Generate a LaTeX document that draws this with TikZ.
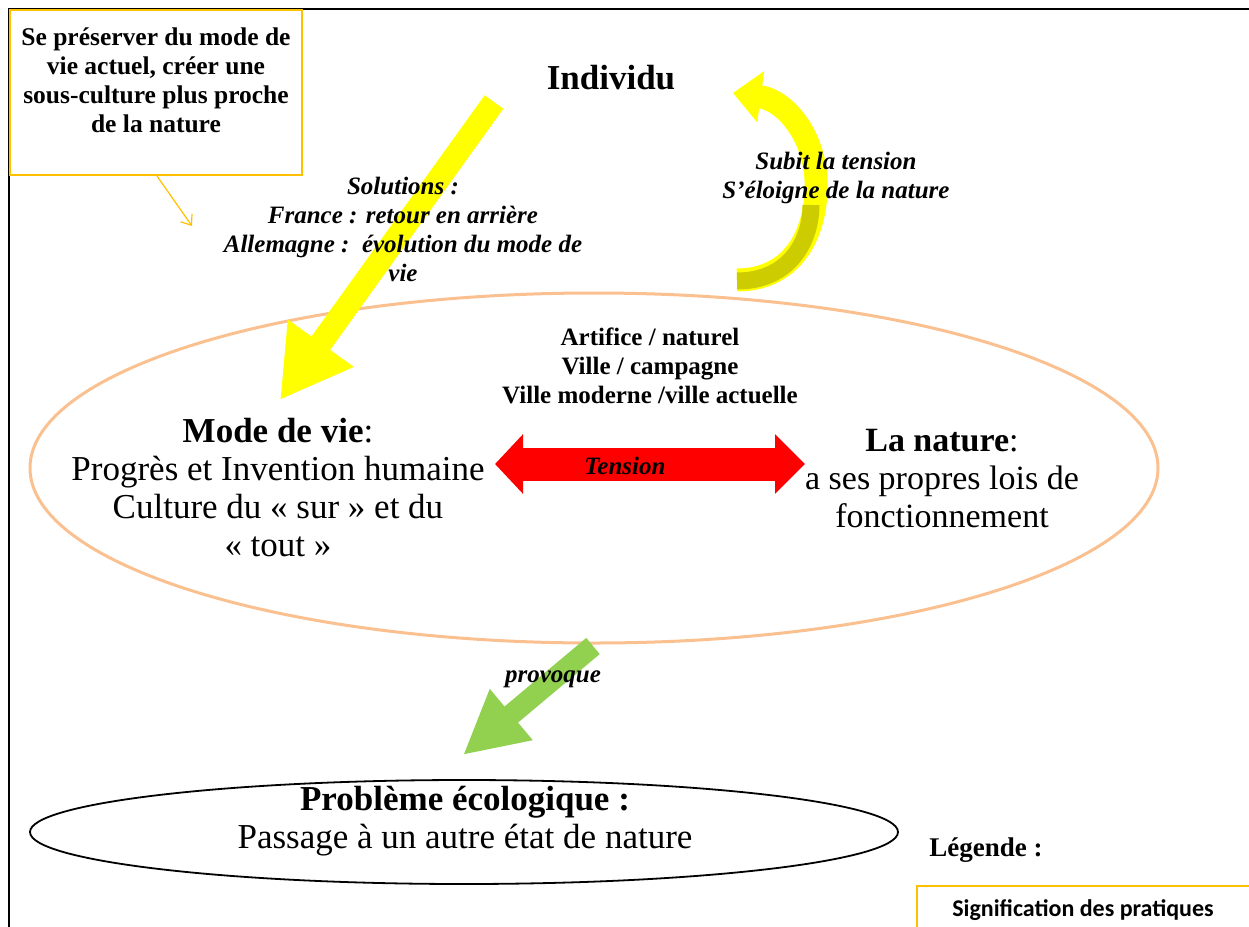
\documentclass[tikz,border=0pt]{standalone}
\usepackage{fontspec}
\setmainfont{Liberation Serif}
\newfontfamily\calib{Carlito}
\usetikzlibrary{arrows.meta,shapes.geometric}
\definecolor{peach}{HTML}{FAC090}
\definecolor{gold}{HTML}{FFC000}
\definecolor{grn}{HTML}{92D050}
\definecolor{olivey}{HTML}{CCCC00}
\definecolor{yel}{HTML}{FFFF00}
\definecolor{redd}{HTML}{FF0000}
\tikzset{
  txt/.style={align=center, inner sep=0pt, text=black},
  bigr/.style={txt, font=\fontsize{35}{38}\selectfont},
  midb/.style={txt, font=\fontsize{25}{29}\selectfont\bfseries},
  midbi/.style={txt, font=\fontsize{25}{29}\selectfont\bfseries\itshape},
  boxb/.style={txt, font=\fontsize{25.5}{29}\selectfont\bfseries},
}
\begin{document}
\begin{tikzpicture}[x=1pt,y=-1pt]
\useasboundingbox (0,0) rectangle (1249,926);
% frame
\draw[line width=2.2pt] (9,930) -- (9,9) -- (1249,9);
% ellipses
\node[ellipse, draw=peach, line width=3pt, minimum width=1128pt, minimum height=350pt, inner sep=0pt] (ell) at (594,468) {};
\node[ellipse, draw=black, line width=1.8pt, minimum width=868pt, minimum height=104pt, inner sep=0pt] (eco) at (464,832) {};
% top-left box
\node[draw=gold, line width=1.5pt, minimum width=292pt, minimum height=165pt, inner sep=0pt] (box) at (156,92.5) {};
\coordinate (bx) at (157,176);
\coordinate (bt) at (192,226);
\draw[gold, line width=1.2pt, -{Straight Barb[length=9pt,width=14pt]}] (bx) -- (bt);
% legend box
\node[draw=gold, line width=1.5pt, minimum width=345pt, minimum height=60pt, inner sep=0pt, anchor=north west] (leg) at (916,885) {};
% yellow straight arrow
\coordinate (ya) at (494,102);
\coordinate (yb) at (280,400);
\draw[yel, line width=23pt, -{Triangle[length=70pt,width=76pt]}] (ya) -- (yb);
% curved arrow
\coordinate (ca) at (737,280);
\coordinate (cb) at (733,93);
\draw[yel, line width=23pt, -{Triangle[length=28pt,width=50pt]}] (ca) .. controls (795,280) and (818,230) .. (816,180) .. controls (814,135) and (785,100) .. (cb);
\draw[olivey, line width=17pt] (737,281) .. controls (790,281) and (811,240) .. (811,205);
% red double arrow
\coordinate (ra) at (495,464);
\coordinate (rb) at (805,464);
\draw[redd, line width=33pt, {Triangle[length=28pt,width=58pt]}-{Triangle[length=30pt,width=58pt]}] (ra) -- (rb);
% green arrow
\coordinate (ga) at (593,646);
\coordinate (gb) at (463,755);
\draw[grn, line width=21pt, -{Triangle[length=63pt,width=62pt]}] (ga) -- (gb);
% texts
\node[boxb] (boxt) at (156,80) {Se préserver du mode de\\vie actuel, créer une\\sous-culture plus proche\\de la nature};
\node[txt, font=\fontsize{35}{38}\selectfont\bfseries] (ind) at (611,78) {Individu};
\node[midbi] (sol) at (403,229) {Solutions :\\France : retour en arrière\\Allemagne :\ \ évolution du mode de\\vie};
\node[midbi] (sub) at (836,178) {Subit la tension\\S’éloigne de la nature};
\node[midb] (art) at (650,366) {Artifice / naturel\\Ville / campagne\\Ville moderne /ville actuelle};
\node[bigr] (mode) at (278,488) {\textbf{Mode de vie}:\\Progrès et Invention humaine\\Culture du « sur » et du\\« tout »};
\node[bigr, font=\fontsize{34}{38}\selectfont] (nat) at (942,479) {\textbf{La nature}:\\a ses propres lois de\\fonctionnement};
\node[midbi] (ten) at (625,466) {Tension};
\node[midbi] (prov) at (553,679) {provoque};
\node[bigr] (pb) at (465,821) {\textbf{Problème écologique :}\\Passage à un autre état de nature};
\node[txt, font=\fontsize{27}{30}\selectfont\bfseries] (lg) at (986,850) {Légende :};
\node[txt, font=\calib\fontsize{24}{28}\selectfont\bfseries] (sig) at (1083,910) {Signification des pratiques};
\end{tikzpicture}
\end{document}
